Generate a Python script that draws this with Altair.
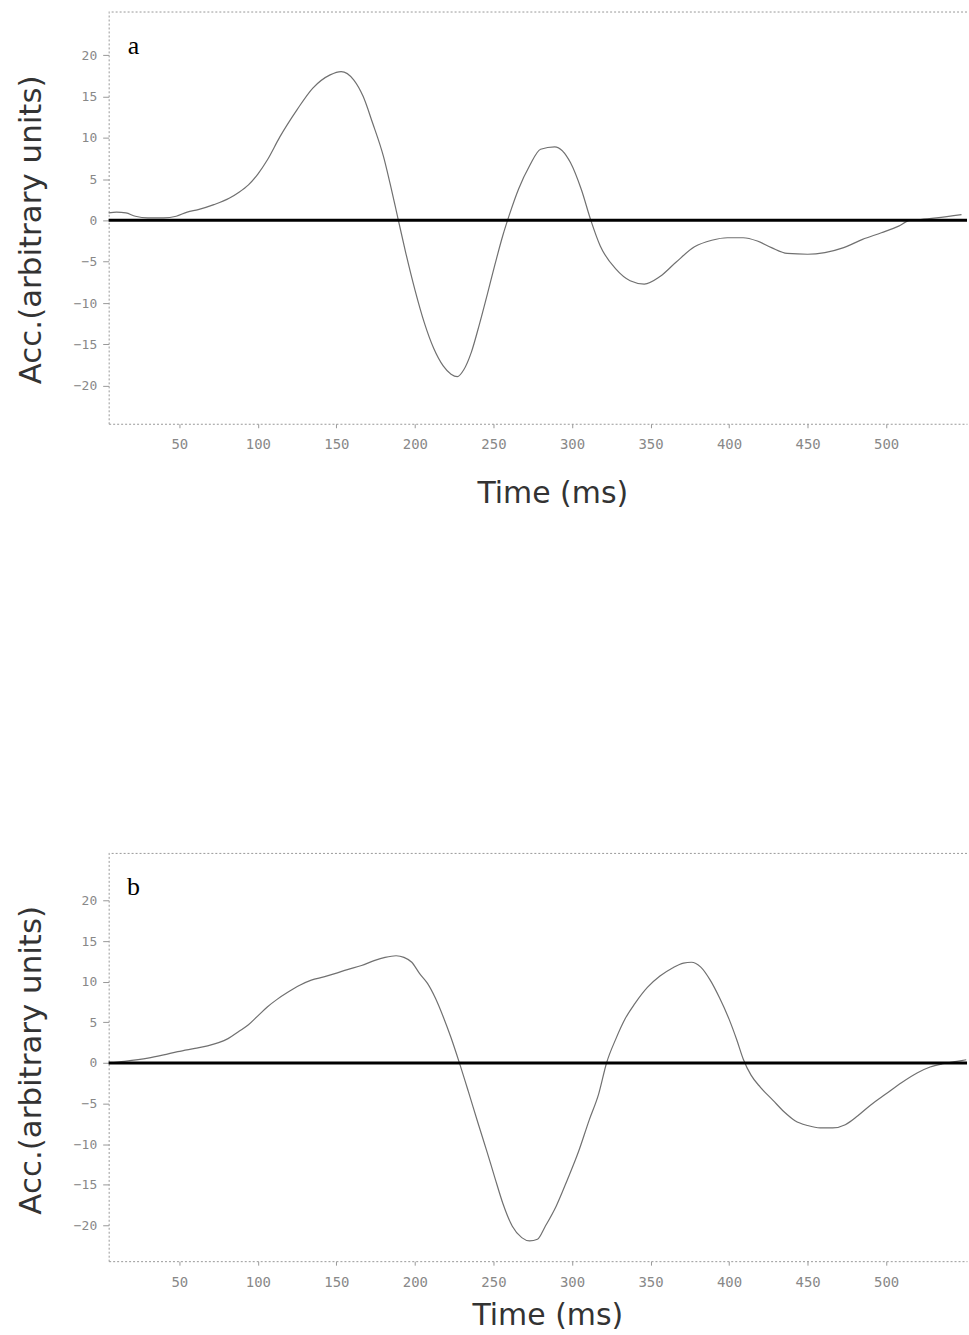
import altair as alt
import pandas as pd

# Panel a: time (ms) and acceleration (arbitrary units)
t_a = [5, 10, 16, 22, 30, 40, 48, 55, 62, 72, 82, 88, 94, 100, 106, 114, 125, 135, 146, 153,
       161, 167, 173, 180, 184, 189, 194, 200, 206, 212, 218, 223, 227, 231, 236, 241, 246, 251, 256,
       260, 266, 273, 280, 289, 299, 306, 312, 318, 328, 337, 346, 356, 366, 378, 389, 399, 409,
       418, 427, 437, 450, 461, 473, 485, 497, 508, 515, 522, 532, 548]
v_a = [0.9, 1.0, 0.9, 0.5, 0.3, 0.3, 0.5, 1.0, 1.3, 1.9, 2.7, 3.4, 4.3, 5.6, 7.3, 10.1, 13.4, 16.0, 17.6, 18.0,
       17.0, 15.0, 11.8, 7.7, 4.6, 0.4, -3.8, -8.4, -12.4, -15.5, -17.6, -18.6, -18.9, -18.1, -15.9, -12.6, -9.0, -5.3, -1.8,
       0.6, 3.8, 6.6, 8.6, 8.9, 7.0, 3.7, 0.0, -3.1, -5.9, -7.3, -7.7, -6.8, -5.1, -3.2, -2.4, -2.1, -2.1,
       -2.5, -3.3, -4.0, -4.1, -3.9, -3.3, -2.3, -1.5, -0.7, 0.0, 0.1, 0.3, 0.7]

# Panel b
t_b = [5, 15, 30, 40, 49, 60, 68, 75, 81, 88, 94, 100, 106, 112, 119, 127, 134, 142, 149, 157,
       166, 174, 181, 188, 193, 198, 203, 208, 213, 218, 223, 228, 234, 240, 246, 251, 256, 262,
       268, 273, 278, 283, 290, 297, 304, 311, 317, 322, 328, 334, 340, 348, 356, 364, 371, 376,
       382, 388, 394, 400, 405, 409, 414, 420, 428, 435, 442, 450, 458, 466, 474, 482, 490, 500,
       510, 520, 528, 536, 545, 551]
v_b = [0.0, 0.2, 0.6, 1.0, 1.4, 1.8, 2.1, 2.5, 3.0, 3.9, 4.7, 5.8, 6.9, 7.8, 8.7, 9.6, 10.2, 10.6, 11.0, 11.5,
       12.0, 12.6, 13.0, 13.2, 13.0, 12.4, 11.0, 9.8, 8.0, 5.7, 3.1, 0.2, -3.5, -7.3, -11.0, -14.2, -17.3, -20.1,
       -21.5, -21.9, -21.7, -20.1, -17.6, -14.4, -11.0, -7.0, -3.8, 0.0, 3.0, 5.5, 7.3, 9.3, 10.7, 11.7, 12.3, 12.4,
       11.8, 10.2, 8.0, 5.4, 2.8, 0.5, -1.5, -3.0, -4.6, -6.0, -7.1, -7.7, -8.0, -8.0, -7.6, -6.5, -5.2, -3.8,
       -2.4, -1.2, -0.5, -0.1, 0.2, 0.4]

x_ticks = [50, 100, 150, 200, 250, 300, 350, 400, 450, 500]
y_ticks = [-20, -15, -10, -5, 0, 5, 10, 15, 20]

W = 861


def panel(t, v, letter, ydom, h, title_x, title_y, ytitle_y):
    df = pd.DataFrame({"t": t, "v": v})
    x = alt.X("t:Q", scale=alt.Scale(domain=[5, 551.5], nice=False, zero=False),
              axis=alt.Axis(values=x_ticks, title="Time (ms)", titleX=title_x, titleY=title_y,
                            titleBaseline="top", titleAnchor="start", titleAlign="center"))
    y = alt.Y("v:Q", scale=alt.Scale(domain=ydom, nice=False, zero=False),
              axis=alt.Axis(values=y_ticks, title="Acc.(arbitrary units)", titleY=ytitle_y,
                            titleAnchor="start", titleAlign="center"))
    line = alt.Chart(df).mark_line(color="#707070", strokeWidth=1.2, interpolate="monotone").encode(x=x, y=y)
    zero = alt.Chart(pd.DataFrame({"z": [0]})).mark_rule(color="black", strokeWidth=3).encode(y=alt.Y("z:Q"))
    top = alt.Chart(pd.DataFrame({"z": [0]})).mark_rule(color="#999", strokeWidth=1, strokeDash=[2, 2]).encode(
        y=alt.value(0))
    lab = alt.Chart(pd.DataFrame({"l": [letter]})).mark_text(
        font="Liberation Serif", fontSize=26, color="black", baseline="alphabetic", align="center").encode(
        x=alt.value(25), y=alt.value(42), text="l:N")
    return alt.layer(line, zero, top, lab).properties(width=W, height=h)


a = panel(t_a, v_a, "a", [-24.6, 25.2], 413, 445, 55, 218)
b = panel(t_b, v_b, "b", [-24.4, 25.8], 409, 440, 40, 207)

chart = alt.vconcat(a, b, spacing=345).properties(
    padding={"left": 15, "top": 9, "right": 0, "bottom": 0}
).configure_view(stroke=None).configure_axis(
    grid=False,
    domainColor="#999", domainDash=[2, 2], domainWidth=1,
    tickColor="#999", labelColor="#888",
    labelFont="DejaVu Sans Mono", titleFont="DejaVu Sans", titleFontWeight="normal", titleColor="#333",
).configure_axisY(
    tickSize=6, labelPadding=6, labelFontSize=13, titleFontSize=31, titlePadding=26,
).configure_axisX(
    tickSize=4, labelPadding=10, labelFontSize=14, titleFontSize=30,
)

chart.save("out.html", embed_options={"renderer": "svg", "actions": False})
